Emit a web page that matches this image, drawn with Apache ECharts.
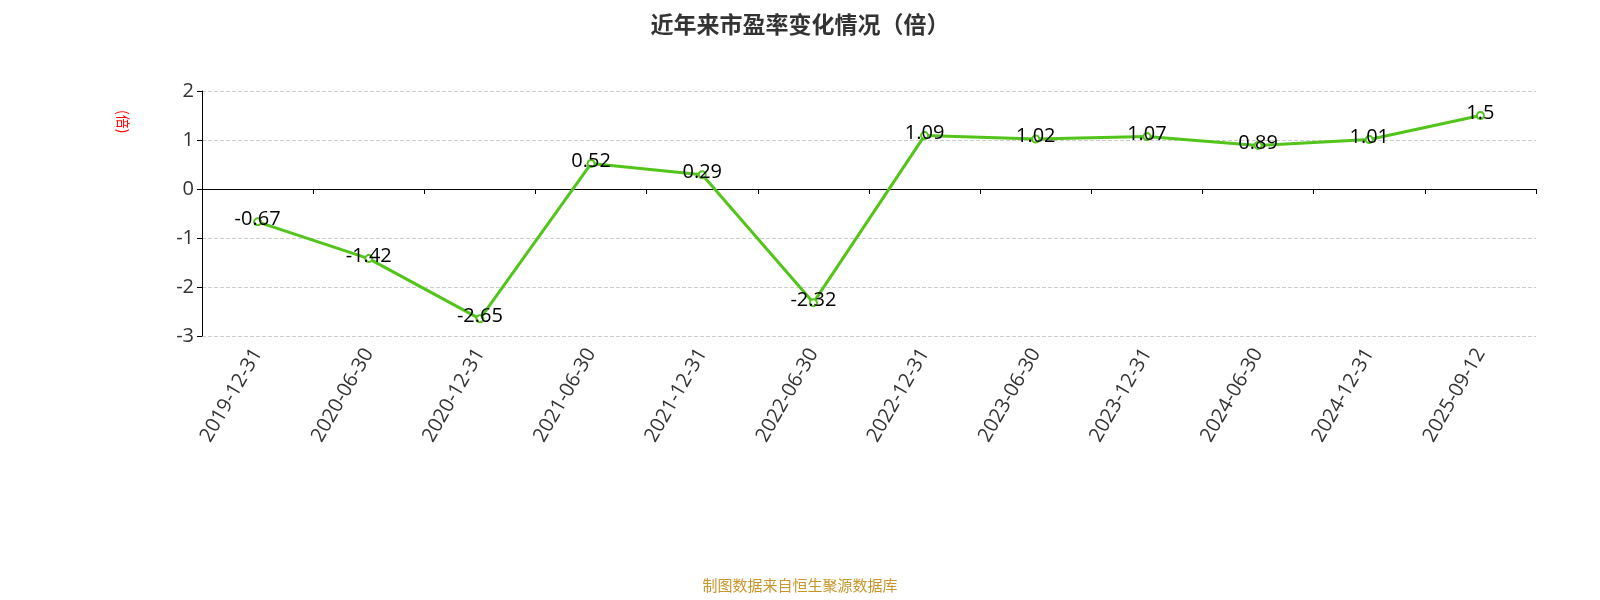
<!DOCTYPE html>
<html><head><meta charset="utf-8">
<script src="https://cdn.jsdelivr.net/npm/echarts@6/dist/echarts.min.js"></script>
<style>html,body{margin:0;padding:0;background:#fff}#c{width:1600px;height:600px}</style>
</head><body><div id="c"></div>
<script>
var categories = ['2019-12-31','2020-06-30','2020-12-31','2021-06-30','2021-12-31','2022-06-30','2022-12-31','2023-06-30','2023-12-31','2024-06-30','2024-12-31','2025-09-12'];
var peValues = [-0.67,-1.42,-2.65,0.52,0.29,-2.32,1.09,1.02,1.07,0.89,1.01,1.5];
var chart = echarts.init(document.getElementById('c'));
var font = '"Noto Sans CJK SC","Noto Sans",sans-serif';
var numFont = '"Open Sans","Noto Sans",sans-serif';
chart.setOption({
  animation:false,
  textStyle:{fontFamily:numFont},
  title:{text:'近年来市盈率变化情况（倍）',left:'center',top:8,textStyle:{fontSize:23,fontWeight:'bold',color:'#333',fontFamily:font}},
  graphic:[
    {type:'text',left:'center',top:578,style:{text:'制图数据来自恒生聚源数据库',fill:'#c8962a',font:'15px '+font}},
    {type:'text',x:130,y:110,rotation:-Math.PI/2,style:{text:'(倍)',fill:'#ff0000',font:'14px '+font}}
  ],
  grid:{left:202,right:64,top:91,bottom:264},
  xAxis:{type:'category',data:categories,boundaryGap:true,
    axisLine:{onZero:true,lineStyle:{color:'#000'}},
    axisTick:{show:true,lineStyle:{color:'#000'}},
    axisLabel:{rotate:60,fontSize:20,color:'#333',interval:0,margin:14,fontFamily:numFont}},
  yAxis:{type:'value',min:-3,max:2,interval:1,
    axisLine:{show:true,lineStyle:{color:'#000'}},
    axisTick:{show:true,lineStyle:{color:'#000'}},
    axisLabel:{fontSize:20,color:'#333',fontFamily:numFont},
    splitLine:{lineStyle:{type:'dashed',color:'#ccc'}}},
  series:[{type:'line',data:peValues,symbol:'emptyCircle',symbolSize:7,
    lineStyle:{color:'#52c41a',width:3},itemStyle:{color:'#52c41a'},
    label:{show:true,position:'top',distance:0,offset:[0,12],fontSize:20,color:'#000',fontFamily:numFont}}]
});
</script></body></html>
